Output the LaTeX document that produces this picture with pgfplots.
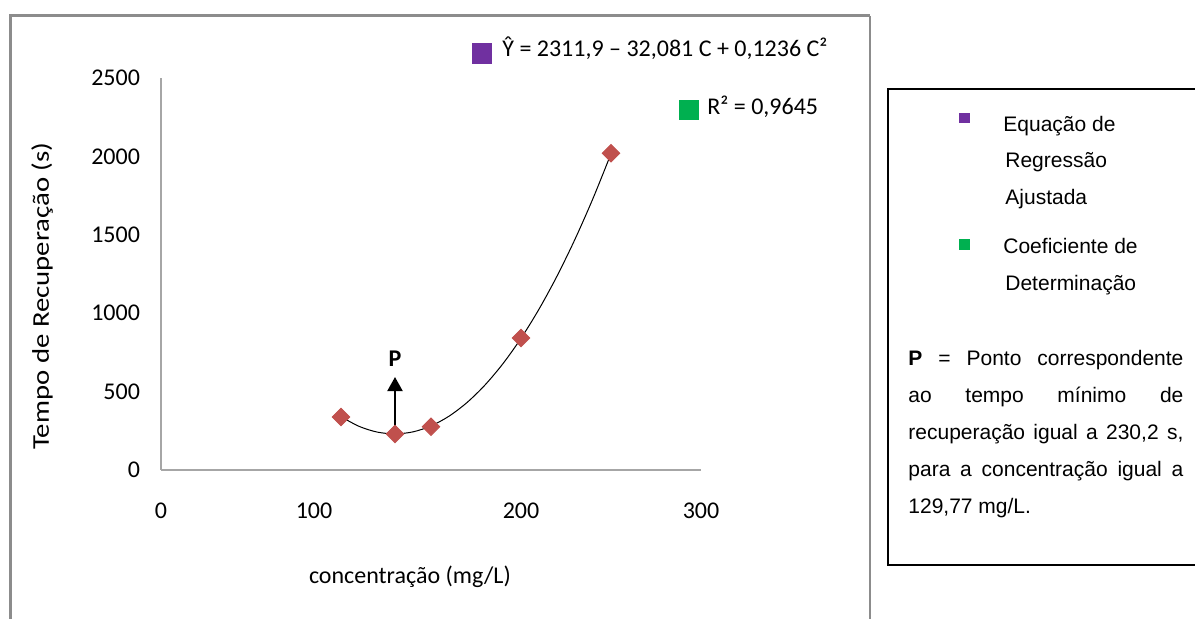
\documentclass[border=0pt]{standalone}
\usepackage{fontspec}
\setmainfont{Carlito}
\newfontfamily\arial{Liberation Sans}
\usepackage{graphicx}
\usepackage{pgfplots}
\pgfplotsset{compat=1.18}
\usetikzlibrary{arrows.meta}
\definecolor{mk}{HTML}{C0504D}
\definecolor{pur}{HTML}{7030A0}
\definecolor{grn}{HTML}{00B050}
\definecolor{axg}{HTML}{A6A6A6}
\definecolor{frg}{HTML}{8C8C8C}
\begin{document}
\begin{tikzpicture}
\useasboundingbox (0,0) rectangle (597.5pt,309.5pt);
\begin{axis}[
  at={(80.5pt,74.5pt)}, anchor=south west,
  scale only axis, width=270pt, height=196pt,
  xmin=0, xmax=300, ymin=0, ymax=2500,
  xtick={0,100,200,300}, ytick={0,500,1000,1500,2000,2500},
  xticklabels={0,\makebox[0pt]{100\hspace*{27pt}},200,300},
  axis x line=bottom, axis y line=left,
  axis line style={-, draw=axg, line width=0.75pt},
  major tick length=0pt,
  tick label style={font=\fontsize{12}{14}\selectfont},
  /pgf/number format/assume math mode=true,
  /pgf/number format/1000 sep={},
  xticklabel style={yshift=-13pt},
  yticklabel style={xshift=-7pt},
  xlabel={concentração (mg/L)},
  ylabel={\scalebox{1.2}[1]{Tempo de Recuperação (s)}},
  label style={font=\fontsize{12}{14}\selectfont},
  xlabel style={at={(axis description cs:0.461,-0.273)}, anchor=center},
  ylabel style={at={(axis description cs:-0.220,0.444)}, anchor=center, rotate=0},
  clip=false,
]
\addplot[smooth, black, line width=0.5pt, no marks] coordinates {
(100,339.8)(110,278.55)(120,242.02)(130,230.21)(140,243.12)(150,280.75)
(160,343.10)(170,430.17)(180,541.96)(190,678.47)(200,839.7)(210,1025.65)
(220,1236.32)(230,1471.71)(240,1731.82)(250,2016.65)};
\addplot[only marks, mark=square*, mark size=3.1pt, mark options={rotate=45, fill=mk, draw=mk}] coordinates {
(100,338)(130,230)(150,276)(200,842)(250,2020)};
\draw[black, line width=1pt, -{Triangle[width=7.5pt,length=7pt]}] (axis cs:130,268) -- (axis cs:130,593);
\node[anchor=base, font=\fontsize{12}{14}\selectfont\bfseries, inner sep=0pt] at (axis cs:130,663) {P};
\end{axis}
\begin{scope}[x=0.5pt,y=-0.5pt,shift={(0,309.5pt)}]
\draw[frg, line width=1.5pt] (10,625) -- (10,16) -- (870,16);
\draw[frg, line width=0.75pt] (870,16) -- (870,625);
\fill[pur] (472,43) rectangle (492,64);
\fill[grn] (679,100) rectangle (699,120);
\node[anchor=base west, inner sep=0pt, font=\fontsize{12}{14}\selectfont] at (502,57) {\^{Y} = 2311,9 – 32,081 C + 0,1236 C²};
\node[anchor=base west, inner sep=0pt, font=\fontsize{12}{14}\selectfont] at (707,115) {R² = 0,9645};
\draw[black, line width=1pt] (1205,89) -- (888,89) -- (888,565) -- (1205,565);
\fill[pur] (959,113) rectangle (970,123);
\fill[grn] (959,239) rectangle (970,250);
\begin{scope}[every node/.style={anchor=base west, inner sep=0pt, font=\arial\fontsize{10.5}{12}\selectfont}]
\node at (1003,132) {Equação de};
\node at (1005,168) {Regressão};
\node at (1005,205) {Ajustada};
\node at (1003,254) {Coeficiente de};
\node at (1005,291) {Determinação};
\node at (908,366) {\makebox[137.5pt][s]{\textbf{P} = Ponto correspondente}};
\node at (908,403) {\makebox[137.5pt][s]{ao tempo mínimo de}};
\node at (908,440) {\makebox[137.5pt][s]{recuperação igual a 230,2 s,}};
\node at (908,477) {\makebox[137.5pt][s]{para a concentração igual a}};
\node at (908,514) {129,77 mg/L.};
\end{scope}
\end{scope}
\end{tikzpicture}
\end{document}
